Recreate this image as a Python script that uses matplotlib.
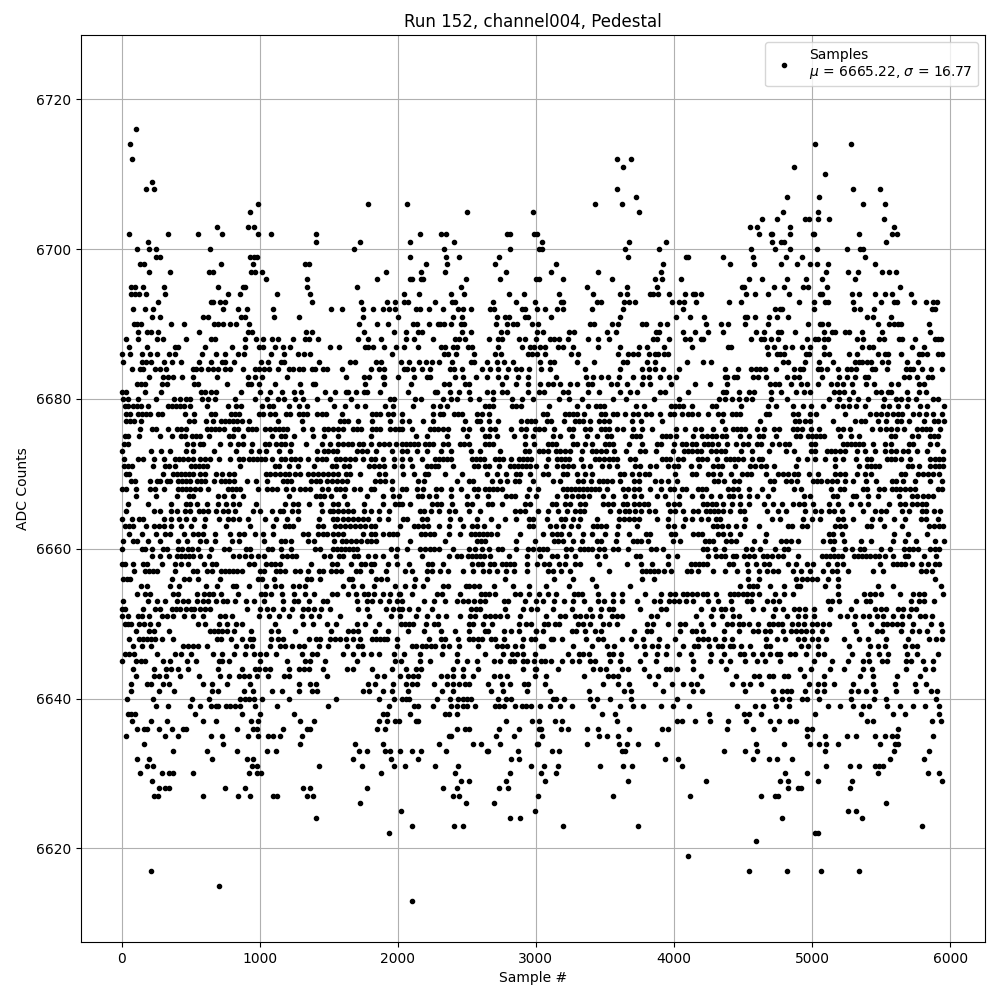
import matplotlib
matplotlib.use("Agg")
import matplotlib.pyplot as plt

# sample numbers, one list per ADC count
s6716 = [106]
s6714 = [63, 5022, 5282]
s6712 = [77, 3587, 3688]
s6711 = [3630, 4870]
s6710 = [5094]
s6709 = [222]
s6708 = [179, 237, 3587, 5296, 5492]
s6707 = [3725, 4819, 5051]
s6706 = [990, 1787, 2065, 3427, 3623, 5369, 5528]
s6705 = [932, 2500, 2978, 3746, 4790, 5043]
s6704 = [4638, 4747, 4949, 4978, 5043, 5123, 5520]
s6703 = [693, 918, 961, 4552, 4602, 4841, 5593]
s6702 = [56, 338, 555, 729, 990, 1084, 1410, 2160, 2312, 2348, 2790, 2812, 2986, 3007, 4617, 4704, 4711, 4841, 5007, 5014, 5340, 5578, 5615]
s6701 = [193, 1410, 1729, 2087, 2406, 3043, 3674, 3942, 4711, 4776, 4798, 5535]
s6700 = [113, 200, 251, 642, 1686, 2333, 2812, 3022, 3043, 3645, 3891, 4559, 4732, 4841, 5036, 5253, 5347, 5369]
s6699 = [251, 280, 932, 961, 983, 2087, 2348, 2442, 2732, 3667, 4087, 4101, 4357, 4573, 4812, 4928, 5383]
s6698 = [135, 164, 722, 954, 1331, 1360, 2203, 2355, 2703, 3145, 3920, 4407, 4581, 4776, 4892, 4986, 5036, 5116, 5455]
s6697 = [200, 353, 635, 664, 939, 968, 1019, 1917, 2167, 2341, 2783, 3109, 3449, 3906, 5101, 5260, 5333, 5506, 5557, 5607]
s6696 = [1048, 1345, 1852, 2087, 2102, 2167, 2181, 2493, 2739, 3000, 3022, 3196, 3551, 3862, 3913, 4051, 4544, 4638, 4819, 4957, 5072, 5311]
s6695 = [70, 99, 157, 309, 700, 881, 896, 1345, 1707, 2457, 3369, 3659, 3877, 4494, 4508, 4725, 4798, 4935, 4971, 5108, 5636]
s6694 = [70, 99, 128, 179, 316, 773, 860, 1128, 1367, 2044, 2152, 2384, 2478, 2804, 2913, 3167, 3413, 3609, 3659, 3826, 3848, 3884, 3964, 4080, 4137, 4152, 4197, 4523, 4588, 4682, 4834, 5058, 5072, 5289, 5340, 5455, 5528, 5578, 5716]
s6693 = [266, 650, 664, 715, 751, 1381, 1736, 1925, 1983, 2044, 2073, 2268, 2391, 2413, 2688, 2855, 2993, 3181, 3196, 3442, 3471, 3638, 3674, 3717, 3985, 4036, 4072, 4159, 4400, 4487, 4906, 5014, 5094, 5116, 5296, 5499, 5593, 5615, 5737, 5824, 5875, 5904]
s6692 = [85, 171, 229, 737, 845, 910, 1099, 1519, 1599, 1751, 1823, 1889, 1939, 1983, 2131, 2160, 2225, 2326, 2435, 2471, 2529, 2667, 2696, 2899, 2920, 3007, 3065, 3152, 3196, 3406, 3630, 4065, 4732, 4769, 4783, 5014, 5304, 5347, 5448, 5868, 5889]
s6691 = [222, 280, 592, 628, 867, 896, 1106, 1287, 1751, 2004, 2399, 2464, 2717, 2775, 2804, 2920, 2942, 3109, 3609, 4014, 4116, 4219, 4516, 4530, 4588, 4689, 4747, 4826, 5398, 5441, 5571]
s6690 = [92, 113, 142, 360, 454, 671, 700, 737, 787, 831, 925, 1722, 1852, 1932, 2112, 2138, 2225, 2290, 2305, 2333, 2384, 2457, 2478, 2710, 2790, 2833, 2862, 2971, 3014, 3391, 3420, 3551, 3594, 3768, 3797, 3898, 3949, 4234, 4342, 4393, 4516, 4682, 4971, 5058, 5072, 5116, 5477, 5557, 5593, 5622, 5643, 5846]
s6689 = [121, 186, 215, 266, 563, 918, 947, 1338, 1381, 1758, 1975, 2058, 2145, 2174, 2464, 2529, 2746, 2790, 3007, 3050, 3239, 3275, 3514, 3580, 3869, 3891, 4065, 4152, 4248, 4357, 4595, 4653, 4754, 4776, 4877, 5087, 5145, 5166, 5239, 5268, 5361, 5506, 5853]
s6688 = [34, 121, 258, 302, 469, 650, 679, 896, 976, 1026, 1092, 1135, 1244, 1331, 1360, 1425, 1715, 1787, 1881, 2058, 2116, 2254, 2413, 2442, 2486, 2659, 2725, 2754, 2877, 2920, 3000, 3101, 3130, 3167, 3232, 3377, 3449, 3529, 3848, 3877, 3964, 4080, 4116, 4197, 4212, 4559, 4631, 4653, 4704, 4754, 4964, 5022, 5043, 5087, 5116, 5325, 5369, 5484, 5520, 5629, 5651, 5745, 5889, 5911, 5933]
s6687 = [56, 186, 389, 411, 606, 802, 896, 997, 1026, 1113, 1171, 1222, 1505, 1577, 1765, 1787, 1823, 1903, 1990, 2044, 2145, 2312, 2341, 2399, 2428, 2507, 2536, 2725, 2899, 2957, 2986, 3029, 3065, 3159, 3196, 3268, 3449, 3609, 3746, 3804, 3927, 4130, 4393, 4414, 4675, 4725, 4805, 4855, 4928, 4986, 5087, 5361, 5412, 5441, 5723, 5810]
s6686 = [5, 63, 150, 208, 258, 345, 389, 584, 686, 751, 845, 889, 1084, 1178, 1280, 1323, 1367, 1961, 2333, 2362, 2423, 2551, 2703, 2746, 2942, 2971, 3007, 3065, 3254, 3304, 3594, 3667, 3703, 3739, 3819, 3862, 3884, 3927, 3956, 4682, 4747, 4769, 4798, 4957, 4978, 5087, 5123, 5268, 5325, 5477, 5528, 5549, 5643, 5774, 5795, 5831, 5911, 5940]
s6685 = [12, 150, 179, 215, 309, 367, 432, 563, 650, 729, 751, 816, 1012, 1063, 1157, 1178, 1432, 1657, 1693, 1845, 1881, 2022, 2080, 2152, 2203, 2247, 2297, 2391, 2529, 2551, 2645, 2717, 2768, 2833, 3029, 3101, 3130, 3297, 3420, 3630, 3659, 3804, 3862, 4094, 4212, 4270, 4790, 4826, 4949, 5051, 5152, 5311, 5340, 5361, 5398, 5427, 5506, 5549, 5687, 5766]
s6684 = [77, 135, 157, 244, 280, 324, 519, 541, 577, 628, 664, 700, 751, 787, 881, 968, 997, 1034, 1070, 1135, 1215, 1244, 1287, 1316, 1381, 1403, 1461, 1490, 1599, 1802, 1860, 1903, 2044, 2065, 2109, 2174, 2232, 2377, 2406, 2464, 2609, 2667, 2725, 2797, 2855, 2891, 2949, 3036, 3101, 3355, 3609, 3768, 3819, 3862, 3920, 4036, 4371, 4465, 4559, 4595, 4624, 4660, 4740, 4870, 4913, 4935, 5043, 5065, 5108, 5188, 5253, 5282, 5318, 5434, 5455, 5542, 5680, 5709, 5730, 5795, 5860, 5940]
s6683 = [200, 302, 338, 374, 440, 519, 693, 918, 968, 1019, 1200, 1628, 1758, 1794, 1889, 1903, 2004, 2119, 2210, 2232, 2413, 2471, 2565, 2645, 2725, 2783, 2870, 2942, 3145, 3362, 3413, 3471, 3521, 3601, 3703, 3775, 3819, 3898, 3964, 4014, 4371, 4385, 4436, 4458, 4573, 4610, 4667, 4819, 4870, 4906, 5072, 5195, 5253, 5311, 5383, 5405, 5665, 5701, 5759, 5839, 5868]
s6682 = [113, 142, 171, 295, 331, 526, 555, 766, 918, 939, 997, 1113, 1294, 1389, 1403, 1765, 1903, 2094, 2333, 2369, 2486, 2515, 2754, 2855, 2942, 3029, 3087, 3123, 3174, 3246, 3297, 3377, 3406, 3543, 3587, 3659, 3768, 3826, 3978, 4152, 4263, 4385, 4696, 4732, 4761, 4848, 4920, 4964, 5043, 5137, 5181, 5224, 5289, 5390, 5448, 5571, 5622, 5774, 5810]
s6681 = [5, 34, 171, 287, 577, 606, 650, 686, 867, 1005, 1077, 1164, 1251, 1302, 1476, 1548, 1628, 1642, 1700, 1758, 1780, 1874, 2073, 2268, 2283, 2377, 2442, 2515, 2645, 2688, 2754, 2790, 2942, 3022, 3058, 3196, 3232, 3377, 3456, 3609, 3681, 3732, 3898, 3935, 4101, 4357, 4378, 4472, 4544, 4581, 4704, 4776, 4884, 4942, 4986, 5159, 5195, 5231, 5296, 5463, 5499, 5549, 5571, 5687, 5774, 5824]
s6680 = [12, 48, 121, 251, 382, 425, 469, 497, 584, 628, 679, 823, 968, 1055, 1135, 1178, 1258, 1316, 1418, 1512, 1664, 1946, 1975, 2123, 2167, 2326, 2384, 2428, 2522, 2587, 2688, 2826, 2899, 2978, 3167, 3239, 3333, 3558, 3652, 3855, 4036, 4328, 4371, 4422, 4472, 4523, 4566, 4704, 4819, 5123, 5195, 5268, 5333, 5405, 5520, 5607, 5643, 5694, 5752, 5875, 5911]
s6679 = [22, 48, 85, 113, 142, 193, 338, 367, 396, 425, 454, 497, 621, 773, 831, 867, 1019, 1070, 1099, 1208, 1287, 1345, 1541, 1620, 1707, 1765, 1910, 1968, 2111, 2255, 2306, 2357, 2631, 2660, 2689, 2826, 2855, 2892, 3094, 3296, 3376, 3434, 3463, 3492, 3723, 3781, 3976, 4005, 4034, 4063, 4132, 4277, 4306, 4487, 4682, 4740, 4863, 4935, 4993, 5080, 5181, 5224, 5268, 5318, 5383, 5513, 5557, 5622, 5687, 5781, 5831, 5954]
s6678 = [34, 63, 121, 150, 179, 208, 266, 295, 461, 526, 650, 679, 794, 823, 852, 997, 1026, 1077, 1113, 1193, 1222, 1287, 1316, 1345, 1418, 1454, 1483, 1599, 1816, 1845, 1874, 1932, 1968, 2031, 2255, 2306, 2328, 2407, 2436, 2465, 2573, 2610, 2660, 3051, 3080, 3210, 3239, 3268, 3296, 3347, 3470, 3499, 3557, 3586, 3643, 3701, 3737, 3795, 3831, 3897, 3969, 3998, 4056, 4099, 4132, 4176, 4248, 4320, 4357, 4422, 4451, 4479, 4667, 4689, 4863, 4899, 4986, 5029, 5239, 5419, 5463, 5499, 5542, 5586, 5622, 5651, 5730, 5774, 5824, 5875, 5940]
s6677 = [34, 63, 92, 142, 490, 526, 613, 664, 722, 751, 780, 809, 838, 874, 925, 1135, 1309, 1584, 1613, 1642, 1715, 1816, 1946, 2031, 2082, 2183, 2255, 2487, 2573, 2595, 2660, 2725, 2892, 2935, 2964, 2993, 3080, 3108, 3202, 3282, 3311, 3340, 3390, 3455, 3491, 3528, 3694, 3759, 3911, 4349, 4624, 4877, 4906, 4949, 4986, 5152, 5311, 5354, 5383, 5477, 5535, 5615, 5643, 5701, 5810, 5882, 5911, 5954]
s6676 = [135, 222, 251, 338, 403, 432, 468, 621, 650, 679, 708, 744, 816, 845, 917, 946, 975, 1041, 1077, 1113, 1142, 1171, 1200, 1316, 1381, 1468, 1497, 1533, 1570, 1606, 1678, 1707, 1736, 1816, 1845, 1874, 1946, 1983, 2012, 2031, 2103, 2234, 2263, 2291, 2328, 2364, 2472, 2516, 2610, 2667, 2703, 2819, 2892, 2928, 2993, 3022, 3058, 3130, 3239, 3268, 3354, 3390, 3470, 3499, 3528, 3586, 3629, 3701, 3766, 3839, 4012, 4077, 4154, 4197, 4284, 4371, 4429, 4458, 4487, 4516, 4602, 4653, 4725, 4761, 4863, 4892, 4928, 4993, 5051, 5188, 5224, 5275, 5431, 5491, 5535, 5571, 5615, 5665, 5759, 5795, 5824, 5853, 5925]
s6675 = [22, 48, 128, 280, 367, 432, 461, 512, 541, 570, 635, 780, 809, 881, 1092, 1157, 1186, 1251, 1388, 1468, 1570, 1802, 2132, 2212, 2357, 2501, 2631, 2660, 2718, 2841, 2920, 2978, 3123, 3173, 3260, 3369, 3441, 3514, 3542, 3694, 3723, 3752, 3911, 3940, 3969, 4012, 4140, 4205, 4241, 4277, 4306, 4349, 4378, 4479, 4544, 4617, 4646, 4740, 4884, 4913, 4971, 5000, 5029, 5058, 5087, 5202, 5282, 5340, 5571, 5600, 5723, 5766, 5853, 5882, 5911]
s6674 = [19, 48, 472, 516, 565, 587, 715, 787, 845, 881, 946, 1041, 1070, 1121, 1157, 1186, 1229, 1338, 1454, 1512, 1570, 1606, 1642, 1671, 1722, 1751, 1802, 1867, 1903, 1939, 1990, 2031, 2060, 2089, 2118, 2147, 2197, 2226, 2255, 2328, 2364, 2450, 2479, 2516, 2631, 2660, 2689, 2920, 2986, 3087, 3116, 3145, 3268, 3296, 3354, 3404, 3499, 3528, 3557, 3672, 3766, 3875, 3904, 3998, 4056, 4085, 4132, 4161, 4219, 4248, 4277, 4320, 4385, 4451, 4501, 4537, 4602, 4631, 4711, 4761, 4805, 4834, 4993, 5022, 5224, 5253, 5282, 5311, 5340, 5369, 5441, 5528, 5571, 5701, 5730, 5853, 5904]
s6673 = [5, 215, 287, 352, 468, 519, 671, 831, 939, 997, 1048, 1142, 1222, 1417, 1468, 1497, 1533, 1562, 1707, 1744, 1773, 1845, 1961, 2031, 2067, 2140, 2212, 2313, 2385, 2530, 2595, 2740, 2920, 2949, 3022, 3051, 3087, 3145, 3173, 3210, 3246, 3333, 3405, 3434, 3470, 3506, 3564, 3651, 3752, 3788, 3868, 3991, 4070, 4099, 4132, 4169, 4197, 4270, 4306, 4342, 4371, 4487, 4566, 4689, 4812, 4870, 4993, 5022, 5108, 5137, 5166, 5202, 5239, 5325, 5383, 5455, 5528, 5571, 5607, 5658, 5694, 5759, 5831, 5947]
s6672 = [19, 121, 157, 237, 309, 389, 418, 447, 483, 519, 570, 606, 642, 708, 787, 852, 881, 925, 954, 983, 1012, 1041, 1092, 1157, 1186, 1229, 1258, 1294, 1352, 1417, 1454, 1483, 1555, 1584, 1620, 1656, 1693, 1751, 1809, 1838, 1896, 1975, 2031, 2089, 2176, 2270, 2299, 2328, 2357, 2386, 2537, 2566, 2595, 2624, 2703, 2732, 2761, 2819, 2877, 2906, 2935, 2964, 3087, 3152, 3181, 3210, 3239, 3325, 3427, 3455, 3492, 3528, 3557, 3586, 3680, 3716, 3911, 3940, 3969, 4027, 4063, 4176, 4205, 4241, 4313, 4378, 4407, 4436, 4465, 4501, 4566, 4617, 4639, 4899, 4964, 5022, 5094, 5166, 5224, 5318, 5398, 5427, 5542, 5571, 5600, 5643, 5708, 5853, 5889, 5918, 5947]
s6671 = [19, 48, 77, 229, 316, 345, 389, 505, 534, 563, 592, 621, 860, 1113, 1142, 1215, 1280, 1396, 1526, 1555, 1613, 1649, 1794, 1830, 1867, 1903, 1975, 2031, 2103, 2212, 2241, 2270, 2291, 2400, 2552, 2581, 2631, 2660, 2732, 2812, 2841, 2870, 2899, 2928, 2957, 3000, 3072, 3152, 3195, 3231, 3268, 3340, 3390, 3477, 3528, 3586, 3716, 3752, 3824, 3868, 3954, 3998, 4027, 4124, 4183, 4284, 4320, 4349, 4443, 4552, 4588, 4631, 4667, 4725, 4884, 5166, 5340, 5398, 5427, 5455, 5484, 5694, 5723, 5774, 5853, 5889, 5918, 5947]
s6670 = [34, 56, 302, 374, 403, 432, 461, 490, 519, 570, 606, 686, 729, 780, 816, 1048, 1077, 1113, 1150, 1186, 1215, 1258, 1294, 1352, 1388, 1425, 1461, 1497, 1533, 1570, 1628, 1657, 1729, 1860, 1910, 2038, 2118, 2197, 2219, 2342, 2465, 2646, 2718, 2783, 2855, 2884, 2957, 3051, 3087, 3195, 3224, 3296, 3354, 3405, 3607, 3636, 3694, 3745, 3788, 3817, 4005, 4132, 4161, 4248, 4284, 4335, 4414, 4494, 4530, 4559, 4667, 4754, 4790, 4827, 4870, 4899, 4978, 5043, 5166, 5202, 5239, 5325, 5383, 5427, 5643, 5673, 5766, 5802, 5838, 5875, 5918]
s6669 = [70, 99, 208, 259, 280, 331, 352, 410, 439, 468, 497, 548, 577, 606, 671, 722, 751, 780, 816, 911, 976, 1055, 1171, 1200, 1229, 1374, 1410, 1439, 1490, 1526, 1562, 1599, 1635, 1838, 1874, 1910, 1961, 2147, 2190, 2429, 2516, 2545, 2682, 2740, 2790, 2848, 2877, 2978, 3123, 3173, 3304, 3340, 3398, 3455, 3484, 3513, 3549, 3607, 3708, 3745, 3860, 3904, 3954, 4019, 4291, 4320, 4364, 4436, 4472, 4696, 4725, 4812, 4848, 4892, 5007, 5036, 5065, 5108, 5145, 5181, 5239, 5296, 5390, 5463, 5578, 5607, 5658, 5745, 5853, 5940]
s6668 = [5, 34, 106, 208, 244, 309, 410, 439, 468, 497, 534, 570, 628, 773, 802, 831, 860, 990, 1055, 1092, 1128, 1193, 1244, 1294, 1331, 1367, 1454, 1497, 1555, 1584, 1620, 1686, 1729, 1802, 1830, 1961, 2031, 2060, 2140, 2183, 2277, 2313, 2385, 2458, 2552, 2581, 2631, 2660, 2689, 2718, 2754, 2949, 3014, 3195, 3224, 3253, 3282, 3311, 3340, 3369, 3398, 3427, 3455, 3513, 3629, 3665, 3708, 3745, 3824, 3904, 3969, 3998, 4056, 4085, 4176, 4205, 4234, 4393, 4429, 4465, 4544, 4639, 4718, 4870, 4920, 5137, 5202, 5231, 5369, 5398, 5484, 5520, 5578, 5607, 5636, 5673, 5708, 5745, 5911, 5940]
s6667 = [106, 251, 403, 490, 519, 700, 744, 809, 881, 1208, 1410, 1439, 1468, 1519, 1613, 1780, 1896, 1968, 2012, 2147, 2176, 2226, 2277, 2385, 2501, 2573, 2653, 2783, 2819, 2848, 2935, 3000, 3152, 3217, 3260, 3304, 3340, 3383, 3484, 3557, 3643, 3708, 3759, 3875, 3933, 4034, 4132, 4205, 4270, 4335, 4400, 4429, 4479, 4544, 4602, 4682, 4942, 4986, 5152, 5181, 5296, 5318, 5405, 5477, 5629, 5723, 5759, 5802, 5838, 5875]
s6666 = [48, 193, 359, 468, 497, 548, 621, 700, 758, 809, 852, 975, 1186, 1244, 1280, 1359, 1446, 1533, 1570, 1635, 1758, 1896, 1983, 2012, 2031, 2089, 2248, 2284, 2313, 2393, 2501, 2537, 2653, 2682, 2754, 2920, 2957, 3116, 3145, 3210, 3246, 3318, 3354, 3484, 3520, 3557, 3629, 3658, 3708, 3745, 3781, 3810, 3954, 3998, 4034, 4212, 4241, 4277, 4306, 4357, 4422, 4479, 4544, 4653, 4718, 4783, 4863, 4906, 4942, 5007, 5123, 5188, 5282, 5347, 5405, 5557, 5636, 5673, 5723, 5759, 5795, 5824]
s6665 = [34, 237, 280, 359, 403, 461, 497, 563, 592, 628, 686, 737, 773, 823, 954, 1005, 1092, 1150, 1171, 1236, 1280, 1454, 1505, 1533, 1570, 1606, 1642, 1678, 1758, 1809, 1867, 1939, 2161, 2190, 2241, 2299, 2371, 2414, 2516, 2595, 2848, 2884, 2920, 3014, 3087, 3159, 3224, 3282, 3318, 3347, 3535, 3600, 3643, 3672, 3716, 3759, 3817, 3860, 3969, 4005, 4063, 4140, 4176, 4234, 4263, 4292, 4320, 4357, 4407, 4479, 4508, 4675, 4754, 4812, 4949, 5022, 5065, 5123, 5159, 5217, 5369, 5455, 5499, 5535, 5651, 5701, 5795, 5824, 5882, 5925]
s6664 = [5, 77, 128, 157, 309, 359, 418, 468, 526, 606, 708, 773, 809, 852, 917, 1041, 1121, 1200, 1280, 1432, 1533, 1562, 1606, 1642, 1678, 1715, 1751, 1787, 1867, 1932, 2038, 2067, 2176, 2212, 2378, 2450, 2573, 2675, 2776, 2855, 2949, 2978, 3080, 3181, 3210, 3268, 3318, 3441, 3600, 3636, 3672, 3708, 3745, 3875, 3954, 4077, 4132, 4197, 4248, 4306, 4335, 4516, 4711, 4769, 4935, 5000, 5058, 5188, 5224, 5296, 5434, 5491, 5593, 5673, 5788, 5824, 5911]
s6663 = [27, 56, 85, 178, 237, 273, 309, 359, 432, 505, 599, 758, 932, 1099, 1186, 1215, 1244, 1425, 1461, 1548, 1584, 1620, 1657, 1693, 1729, 1765, 1802, 1838, 2017, 2118, 2147, 2183, 2219, 2299, 2371, 2472, 2537, 2573, 2624, 2725, 2949, 2978, 3101, 3145, 3195, 3253, 3304, 3412, 3441, 3470, 3506, 3593, 3730, 3954, 3998, 4063, 4284, 4313, 4349, 4393, 4451, 4508, 4617, 4827, 4856, 4928, 4964, 5166, 5202, 5239, 5398, 5427, 5520, 5651, 5846, 5882, 5918, 5947]
s6662 = [56, 150, 246, 316, 352, 454, 519, 555, 592, 678, 787, 852, 889, 968, 1026, 1099, 1316, 1352, 1425, 1461, 1490, 1533, 1570, 1606, 1751, 1802, 1838, 1889, 1939, 1968, 1997, 2168, 2197, 2234, 2263, 2371, 2450, 2530, 2559, 2588, 2617, 2646, 2675, 2718, 2884, 3051, 3116, 3152, 3181, 3239, 3340, 3405, 3499, 3586, 3672, 3795, 3824, 3976, 4005, 4140, 4176, 4205, 4320, 4357, 4407, 4479, 4667, 5123, 5152, 5217, 5593, 5694, 5831]
s6661 = [12, 85, 114, 193, 280, 410, 476, 570, 613, 678, 802, 852, 1034, 1157, 1186, 1229, 1352, 1396, 1541, 1599, 1628, 1664, 1700, 1736, 1773, 1809, 1845, 2089, 2342, 2573, 2602, 2631, 2855, 2993, 3130, 3159, 3195, 3268, 3333, 3441, 3470, 3578, 3701, 3730, 3759, 3810, 3991, 4041, 4226, 4256, 4284, 4378, 4414, 4451, 4581, 4660, 4776, 4812, 4848, 4899, 5080, 5130, 5159, 5231, 5354, 5427, 5586, 5673, 5752, 5889, 5954]
s6660 = [5, 150, 171, 222, 302, 331, 410, 439, 483, 512, 555, 650, 744, 780, 903, 932, 1063, 1092, 1157, 1229, 1403, 1439, 1533, 1562, 1591, 1620, 1649, 1678, 1707, 1954, 1997, 2067, 2161, 2197, 2234, 2263, 2299, 2400, 2516, 2559, 2610, 2660, 2725, 2754, 2855, 2942, 2978, 3022, 3051, 3080, 3217, 3253, 3318, 3347, 3376, 3405, 3455, 3491, 3557, 3593, 3665, 3831, 3868, 3918, 4212, 4241, 4299, 4364, 4523, 4566, 4624, 4733, 4798, 4827, 5152, 5239, 5289, 5347, 5376, 5499, 5564, 5665, 5701, 5730, 5766, 5853, 5889, 5918]
s6659 = [222, 280, 345, 403, 432, 461, 490, 519, 570, 635, 809, 852, 896, 939, 990, 1034, 1164, 1200, 1236, 1265, 1468, 1505, 1577, 1606, 1686, 1715, 1787, 1838, 1896, 1990, 2176, 2371, 2429, 2458, 2508, 2537, 2566, 2595, 2624, 2667, 2805, 2935, 3029, 3116, 3152, 3217, 3282, 3441, 3499, 3723, 3752, 3954, 4019, 4248, 4306, 4342, 4371, 4429, 4451, 4508, 4544, 4581, 4646, 4675, 4711, 4754, 4790, 4899, 5072, 5101, 5130, 5159, 5188, 5217, 5304, 5333, 5361, 5390, 5419, 5455, 5484, 5528, 5586, 5673, 5694, 5810, 5897]
s6658 = [5, 27, 85, 157, 186, 295, 389, 432, 483, 599, 657, 686, 925, 961, 1048, 1084, 1113, 1150, 1374, 1526, 1562, 1664, 1736, 1765, 1802, 1830, 1932, 1997, 2082, 2219, 2248, 2328, 2537, 2581, 2610, 2667, 2696, 2754, 2783, 2812, 2841, 2935, 3007, 3058, 3094, 3166, 3210, 3282, 3318, 3455, 3658, 3759, 3839, 3954, 4124, 4154, 4183, 4212, 4241, 4400, 4429, 4530, 4595, 4653, 4689, 4827, 4884, 4964, 5007, 5116, 5181, 5224, 5491, 5586, 5615, 5643, 5673, 5723, 5788, 5838, 5889, 5918]
s6657 = [92, 171, 200, 229, 258, 389, 519, 548, 621, 657, 722, 751, 780, 809, 838, 874, 1004, 1034, 1121, 1150, 1186, 1258, 1294, 1352, 1432, 1461, 1519, 1555, 1591, 1700, 1729, 1802, 1917, 2053, 2103, 2212, 2248, 2306, 2364, 2472, 2544, 2617, 2660, 2718, 2783, 2841, 2935, 3087, 3123, 3181, 3246, 3528, 3766, 3795, 3824, 3853, 3882, 3926, 3976, 4092, 4124, 4176, 4284, 4371, 4458, 4537, 4617, 4675, 4718, 4754, 4863, 4920, 4986, 5080, 5145, 5181, 5260, 5441, 5513, 5788, 5824, 5867]
s6656 = [12, 41, 63, 367, 454, 490, 555, 715, 990, 1019, 1106, 1345, 1374, 1439, 1649, 1671, 1845, 1881, 1925, 2125, 2212, 2776, 3130, 3268, 3405, 3766, 3853, 4537, 4617, 4884, 4928, 4964, 5000, 5036, 5116, 5188, 5889]
s6655 = [143, 186, 352, 418, 613, 693, 809, 831, 925, 1048, 1113, 1157, 1244, 1287, 1331, 1606, 1678, 1744, 1830, 1983, 2053, 2118, 2183, 2328, 2364, 2494, 2516, 2552, 2588, 2696, 2834, 2949, 3072, 3239, 3434, 3680, 4479, 4544, 4573, 4602, 4696, 4798, 4892, 4913, 5094, 5188, 5477, 5586, 5933]
s6654 = [113, 171, 208, 374, 410, 548, 599, 635, 664, 722, 845, 1012, 1041, 1084, 1164, 1251, 1331, 1396, 1526, 1562, 1642, 1700, 1758, 1787, 1830, 1896, 1946, 2005, 2017, 2103, 2284, 2320, 2450, 2602, 2631, 2660, 2703, 2848, 2884, 2949, 3022, 3087, 3145, 3275, 3304, 3333, 3448, 3557, 3622, 3788, 3904, 3969, 4005, 4063, 4092, 4132, 4169, 4212, 4241, 4306, 4407, 4436, 4465, 4501, 4530, 4566, 4617, 4733, 4798, 4863, 5188, 5376, 5419, 5455, 5499, 5636, 5730, 5774, 5810, 5947]
s6653 = [12, 193, 258, 316, 403, 447, 483, 548, 592, 628, 686, 737, 766, 823, 903, 961, 1034, 1171, 1251, 1280, 1359, 1461, 1490, 1707, 1773, 1816, 1874, 1939, 1997, 2031, 2190, 2263, 2342, 2429, 2472, 2508, 2552, 2595, 2631, 2768, 2797, 2920, 3000, 3051, 3130, 3203, 3268, 3347, 3448, 3492, 3557, 3622, 3730, 3853, 3897, 3962, 3998, 4034, 4085, 4140, 4248, 4320, 4414, 4530, 4559, 4675, 4718, 4761, 5116, 5145, 5195, 5318, 5390, 5419, 5716, 5774, 5810, 5882]
s6652 = [0, 27, 157, 244, 280, 367, 396, 425, 468, 505, 526, 570, 606, 642, 910, 1004, 1055, 1099, 1171, 1236, 1316, 1352, 1396, 1446, 1512, 1715, 1773, 1917, 1968, 2012, 2031, 2082, 2147, 2248, 2530, 2566, 2595, 2776, 2906, 2964, 3007, 3123, 3260, 3390, 3470, 3528, 3557, 3752, 3904, 3940, 4197, 4284, 4342, 4371, 4422, 4573, 4646, 4733, 4790, 4870, 4906, 4949, 5014, 5130, 5282, 5455, 5499, 5535, 5622, 5658, 5716, 5752]
s6651 = [0, 48, 121, 150, 200, 295, 331, 374, 454, 519, 592, 715, 751, 802, 997, 1070, 1142, 1208, 1309, 1374, 1432, 1584, 1794, 1954, 2017, 2132, 2212, 2291, 2349, 2450, 2523, 2559, 2631, 2667, 2703, 2740, 2790, 2884, 3072, 3173, 3210, 3282, 3318, 3362, 3405, 3463, 3549, 3586, 3622, 3831, 3875, 4161, 4270, 4349, 4429, 4472, 4718, 4819, 4899, 4949, 5014, 5202, 5253, 5311, 5369, 5412, 5470, 5513, 5586, 5651, 5701, 5781, 5817, 5867]
s6650 = [27, 48, 70, 128, 164, 208, 266, 555, 606, 707, 766, 831, 874, 1113, 1316, 1389, 1485, 1555, 1707, 1765, 1860, 2026, 2055, 2084, 2113, 2207, 2265, 2294, 2519, 2548, 2620, 2685, 2881, 2925, 2968, 3058, 3087, 3137, 3166, 3304, 3340, 3390, 3484, 3527, 3586, 3802, 3846, 3954, 4041, 4077, 4193, 4280, 4381, 4417, 4468, 4497, 4540, 4612, 4685, 4721, 4757, 4786, 4858, 4901, 4945, 5003, 5039, 5082, 5125, 5306, 5429, 5516, 5545, 5581, 5617, 5653, 5733, 5863, 5935]
s6649 = [106, 200, 237, 345, 642, 671, 700, 729, 766, 816, 939, 1084, 1135, 1258, 1519, 1642, 1678, 1715, 1838, 1932, 2077, 2193, 2309, 2417, 2519, 2628, 2656, 2772, 2823, 2881, 3004, 3000, 3051, 3260, 3289, 3354, 3426, 3470, 3708, 3802, 3831, 4041, 4128, 4157, 4207, 4359, 4468, 4569, 4612, 4656, 4699, 4793, 4851, 4887, 4923, 4959, 5003, 5075, 5321, 5473, 5509, 5646, 5726, 5777, 5834, 5943]
s6648 = [56, 128, 157, 186, 215, 244, 295, 374, 693, 722, 795, 874, 932, 954, 1084, 1135, 1171, 1360, 1410, 1439, 1512, 1548, 1584, 1628, 1678, 1729, 1816, 1845, 1874, 1903, 1925, 1997, 2229, 2309, 2345, 2439, 2519, 2548, 2577, 2606, 2678, 2707, 2772, 2910, 2968, 2997, 3108, 3123, 3188, 3361, 3448, 3484, 3622, 3687, 3774, 3889, 4005, 4171, 4207, 4243, 4294, 4359, 4417, 4670, 4750, 4807, 4901, 4945, 5003, 5046, 5104, 5234, 5342, 5407, 5538, 5697, 5849, 5899, 5943]
s6647 = [85, 150, 215, 447, 483, 519, 555, 621, 831, 903, 947, 1077, 1150, 1186, 1236, 1287, 1323, 1432, 1497, 1635, 1715, 1744, 1997, 2099, 2128, 2178, 2207, 2243, 2272, 2330, 2374, 2446, 2577, 2717, 2758, 2794, 2852, 2896, 3036, 3051, 3268, 3405, 3513, 3564, 3723, 3781, 3839, 3882, 3947, 4063, 4142, 4171, 4251, 4316, 4345, 4403, 4431, 4489, 4554, 4670, 4699, 4923, 4974, 5046, 5270, 5422, 5480, 5531, 5675, 5726, 5762]
s6646 = [27, 56, 92, 258, 389, 432, 505, 664, 729, 816, 896, 961, 1005, 1048, 1121, 1309, 1381, 1413, 1606, 1678, 1751, 1809, 1860, 1975, 2041, 2157, 2323, 2432, 2628, 2765, 2830, 2866, 2910, 2997, 3231, 3311, 3340, 3383, 3528, 3557, 3615, 3788, 3875, 3940, 4034, 4121, 4265, 4359, 4475, 4504, 4576, 4641, 4699, 4750, 4771, 4844, 4880, 4959, 5046, 5089, 5292, 5407, 5487, 5552, 5690, 5762, 5914]
s6645 = [5, 106, 142, 171, 302, 353, 476, 541, 707, 729, 780, 1005, 1200, 1331, 1367, 1476, 1707, 1983, 2026, 2164, 2236, 2432, 2504, 2570, 2693, 2743, 2809, 2838, 2903, 2939, 2983, 3036, 3065, 3108, 3188, 3260, 3311, 3390, 3426, 3535, 3607, 3752, 3868, 4135, 4258, 4338, 4403, 4518, 4598, 4663, 4771, 5017, 5147, 5263, 5371, 5415, 5509, 5545, 5682, 5718, 5805, 5878]
s6644 = [85, 237, 324, 360, 411, 483, 700, 874, 968, 997, 1041, 1077, 1215, 1287, 1323, 1360, 1461, 1635, 1678, 1816, 1961, 2062, 2135, 2171, 2396, 2475, 2577, 2910, 2997, 3000, 3159, 3412, 3463, 3506, 3622, 3665, 3781, 3940, 3969, 4019, 4135, 4374, 4916, 4995, 5133, 5234, 5371, 5436, 5682, 5820, 5878]
s6643 = [106, 237, 273, 324, 425, 563, 715, 780, 852, 889, 925, 983, 1063, 1178, 1208, 1490, 1852, 1903, 2019, 2077, 2113, 2149, 2316, 2359, 2396, 2475, 2548, 2693, 2743, 2794, 2997, 3072, 3347, 3521, 3557, 3593, 3817, 3882, 4193, 4446, 4583, 4619, 4685, 4714, 4800, 4829, 4945, 5089, 5350, 5444, 5617, 5784]
s6642 = [70, 186, 215, 302, 345, 592, 657, 766, 932, 1287, 1367, 1410, 1787, 1831, 1968, 2062, 2106, 2142, 2265, 2359, 2403, 2446, 2490, 2519, 2656, 2751, 2816, 2917, 2946, 3065, 3484, 3593, 3672, 3860, 3983, 4063, 4121, 4164, 4424, 4497, 4554, 4627, 4981, 5046, 5089, 5162, 5299, 5444, 5603, 5747, 5827]
s6641 = [70, 273, 382, 657, 700, 889, 954, 1092, 1164, 1287, 1381, 1418, 1751, 1794, 1896, 1961, 2077, 2323, 2403, 2678, 2765, 2932, 3101, 3383, 3636, 3687, 3918, 4135, 4200, 4518, 4721, 4779, 4822, 4851, 4952, 5039, 5089, 5285, 5335, 5393, 5458, 5610, 5755, 5863, 5907]
s6640 = [41, 229, 512, 635, 860, 896, 925, 961, 1019, 1215, 1555, 1867, 1975, 2033, 2062, 2084, 2287, 2381, 2439, 2475, 2504, 2533, 2722, 2787, 2823, 3123, 3144, 3202, 3390, 3441, 3535, 3687, 4019, 4735, 4779, 4836, 4930, 4966, 5053, 5285, 5451, 5538, 5899]
s6639 = [251, 338, 497, 570, 650, 686, 700, 758, 787, 823, 860, 968, 1128, 1497, 1939, 2120, 2149, 2258, 2388, 2425, 2475, 2504, 2562, 2707, 2736, 2772, 2845, 2896, 2925, 2961, 3029, 3101, 3174, 3260, 3412, 3607, 3701, 3774, 3904, 3990, 4106, 4460, 4590, 4648, 4742, 4836, 5118, 5205, 5299, 5371, 5415, 5545, 5639, 5733, 5820, 5921]
s6638 = [48, 70, 99, 534, 874, 1005, 1251, 1889, 1925, 2091, 2345, 2374, 2425, 3477, 3571, 4251, 4504, 4547, 4634, 5024, 5357, 5588, 5675, 5921]
s6637 = [75, 215, 331, 592, 686, 939, 990, 1294, 1396, 1867, 1925, 1983, 2012, 2128, 2149, 2787, 2975, 3022, 3137, 3188, 3586, 4019, 4055, 4149, 4258, 4388, 4525, 4699, 4764, 4844, 4887, 5400, 5444, 5870, 5935]
s6636 = [113, 164, 186, 273, 367, 447, 469, 838, 954, 983, 1171, 1345, 1367, 1852, 1910, 2432, 2490, 2519, 2736, 2874, 3026, 3036, 3181, 3231, 3369, 3448, 3672, 3911, 3954, 4381, 4569, 4728, 4966, 5003, 5625]
s6635 = [34, 316, 411, 650, 729, 918, 990, 1063, 1099, 1150, 1309, 2367, 2388, 2714, 2838, 3043, 3455, 3513, 3593, 4966, 5097, 5256, 5321, 5458, 5531, 5581, 5617, 5878]
s6634 = [164, 737, 1294, 1693, 1889, 2301, 2541, 2599, 2743, 3012, 3007, 3369, 3600, 3658, 3737, 3875, 4591, 4800, 4988, 5053, 5104, 5190, 5494, 5603, 5625]
s6633 = [374, 621, 838, 1055, 1121, 1722, 1773, 1910, 1946, 2019, 2106, 2171, 2352, 2649, 2656, 2867, 3116, 3166, 3622, 3643, 4366, 4518, 4605, 5097, 5595, 5849]
s6632 = [113, 200, 657, 910, 954, 1678, 1954, 2149, 2823, 2881, 3933, 4027, 4576, 4685, 4750, 4858, 5567, 5813]
s6631 = [186, 229, 947, 983, 1432, 1744, 1975, 2055, 2272, 2439, 2961, 3058, 3159, 3463, 3629, 3694, 4056, 5104, 5278, 5342, 5458, 5487, 5516]
s6630 = [135, 295, 345, 374, 519, 925, 983, 1012, 1881, 2417, 2816, 3036, 3145, 4807, 4966, 5480, 5841, 5921]
s6629 = [222, 2461, 2512, 2787, 3065, 3665, 4229, 4771, 4829, 5046, 5292, 5943]
s6628 = [273, 316, 345, 751, 896, 1316, 1367, 1780, 2330, 2432, 2736, 2801, 4829, 4901, 4923, 5277]
s6627 = [237, 266, 592, 845, 932, 1099, 1128, 1345, 1389, 2403, 2446, 3012, 3557, 4113, 4634, 4735, 4757]
s6626 = [1729, 2497, 2693, 5538]
s6625 = [2026, 2990, 5263, 5321]
s6624 = [1410, 2809, 2888, 4779, 5364]
s6623 = [2106, 2410, 2475, 3195, 3737, 5798]
s6622 = [1939, 5024, 5046]
s6621 = [4591]
s6619 = [4099]
s6617 = [215, 4547, 4822, 5068, 5342]
s6615 = [707]
s6613 = [2099]

adc_levels = [6716, 6714, 6712, 6711, 6710, 6709, 6708, 6707, 6706, 6705, 6704, 6703, 6702, 6701, 6700,
              6699, 6698, 6697, 6696, 6695, 6694, 6693, 6692, 6691, 6690, 6689, 6688, 6687, 6686, 6685,
              6684, 6683, 6682, 6681, 6680, 6679, 6678, 6677, 6676, 6675, 6674, 6673, 6672, 6671, 6670,
              6669, 6668, 6667, 6666, 6665, 6664, 6663, 6662, 6661, 6660, 6659, 6658, 6657, 6656, 6655,
              6654, 6653, 6652, 6651, 6650, 6649, 6648, 6647, 6646, 6645, 6644, 6643, 6642, 6641, 6640,
              6639, 6638, 6637, 6636, 6635, 6634, 6633, 6632, 6631, 6630, 6629, 6628, 6627, 6626, 6625,
              6624, 6623, 6622, 6621, 6619, 6617, 6615, 6613]

samples = []
counts = []
for level in adc_levels:
    row = globals()[f's{level}']
    samples += row
    counts += [level] * len(row)

fig = plt.figure(figsize=(10, 10), dpi=100)
ax = fig.add_subplot(111)
ax.plot(samples, counts, 'k.', label='Samples\n$\\mu$ = 6665.22, $\\sigma$ = 16.77')
ax.set_xlim(-295, 6253)
ax.set_ylim(6607.5, 6728.6)
ax.set_title('Run 152, channel004, Pedestal')
ax.set_xlabel('Sample #')
ax.set_ylabel('ADC Counts')
ax.grid(True)
ax.legend(loc='upper right')
fig.subplots_adjust(left=0.081, right=0.985, bottom=0.058, top=0.965)
plt.savefig('out.png')
